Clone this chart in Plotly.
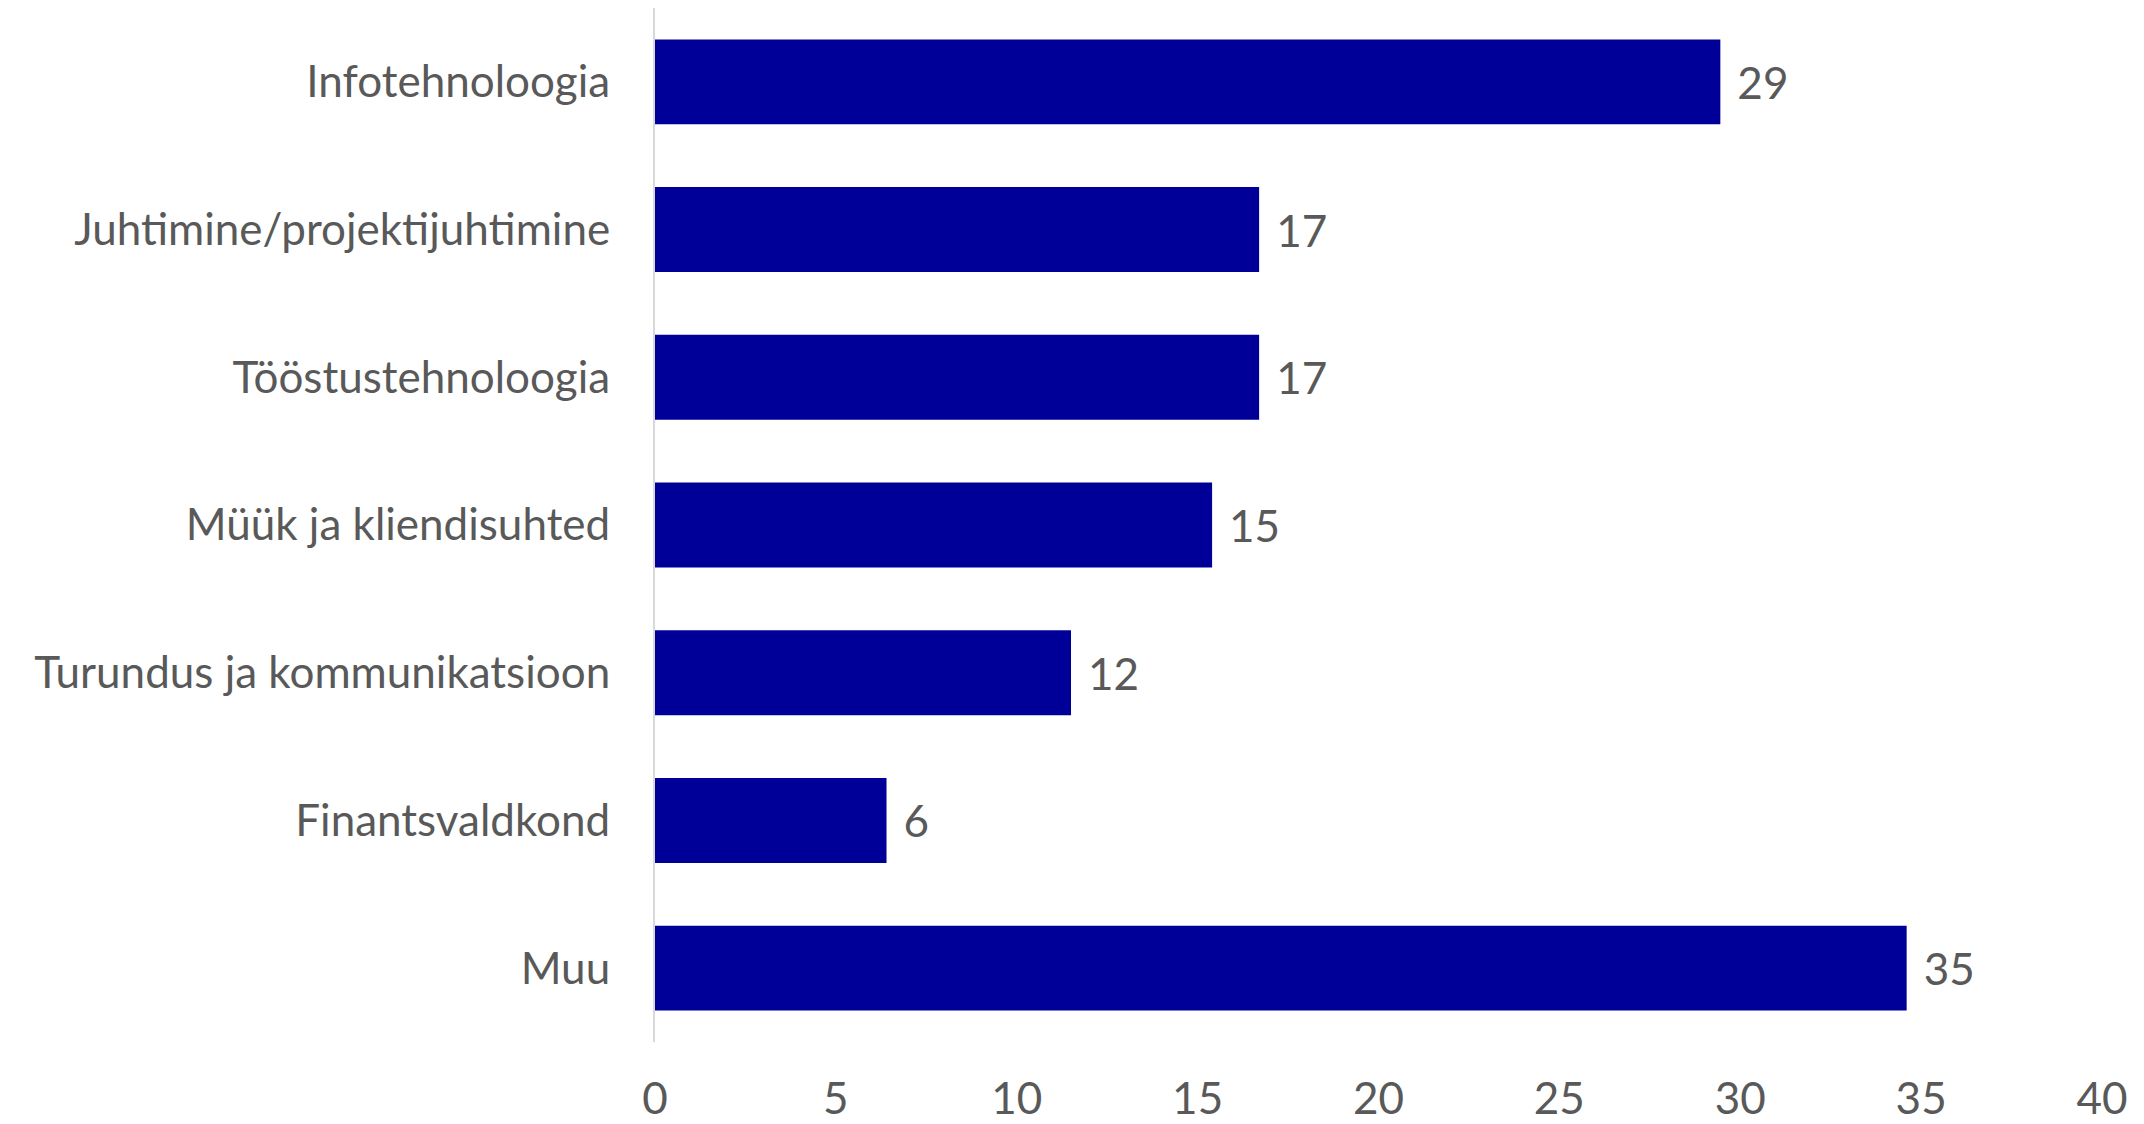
import plotly.graph_objects as go

categories = [
    "Infotehnoloogia",
    "Juhtimine/projektijuhtimine",
    "Tööstustehnoloogia",
    "Müük ja kliendisuhted",
    "Turundus ja kommunikatsioon",
    "Finantsvaldkond",
    "Muu",
]
values = [29.45, 16.7, 16.7, 15.4, 11.5, 6.4, 34.6]
x_ticks = [0, 5, 10, 15, 20, 25, 30, 35, 40]

W, H = 2144, 1124
FONT = "Lato, Calibri, Carlito, sans-serif"
GRAY = "#595959"
FS = 44

fig = go.Figure(
    go.Bar(
        y=categories,
        x=values,
        orientation="h",
        marker=dict(color="#000099", line=dict(width=0)),
        text=["\u00a0\u200a" + f"{v:.0f}" for v in values],
        textposition="outside",
        textfont=dict(family=FONT, size=FS, color=GRAY),
        cliponaxis=False,
        hoverinfo="x+y",
    )
)

fig.update_layout(
    width=W,
    height=H,
    margin=dict(l=655, r=42, t=8, b=82, autoexpand=False),
    paper_bgcolor="white",
    plot_bgcolor="white",
    bargap=0.425,
    showlegend=False,
    font=dict(family=FONT, color=GRAY, size=FS),
)

fig.update_xaxes(
    range=[0, 40],
    tickvals=x_ticks,
    ticktext=[str(t) for t in x_ticks],
    showgrid=False,
    zeroline=False,
    showline=False,
    ticks="outside",
    ticklen=18,
    tickcolor="rgba(0,0,0,0)",
    tickfont=dict(family=FONT, size=FS, color=GRAY),
)

fig.update_yaxes(
    categoryorder="array",
    categoryarray=categories,
    autorange="reversed",
    showgrid=False,
    zeroline=False,
    showline=True,
    linecolor="#d9d9d9",
    linewidth=2,
    ticks="",
    ticklabelstandoff=34,
    tickfont=dict(family=FONT, size=FS, color=GRAY),
)

fig.write_html(
    "out.html",
    config={"displayModeBar": False},
    post_script="document.body.style.margin='0';document.body.style.overflow='hidden';",
)
